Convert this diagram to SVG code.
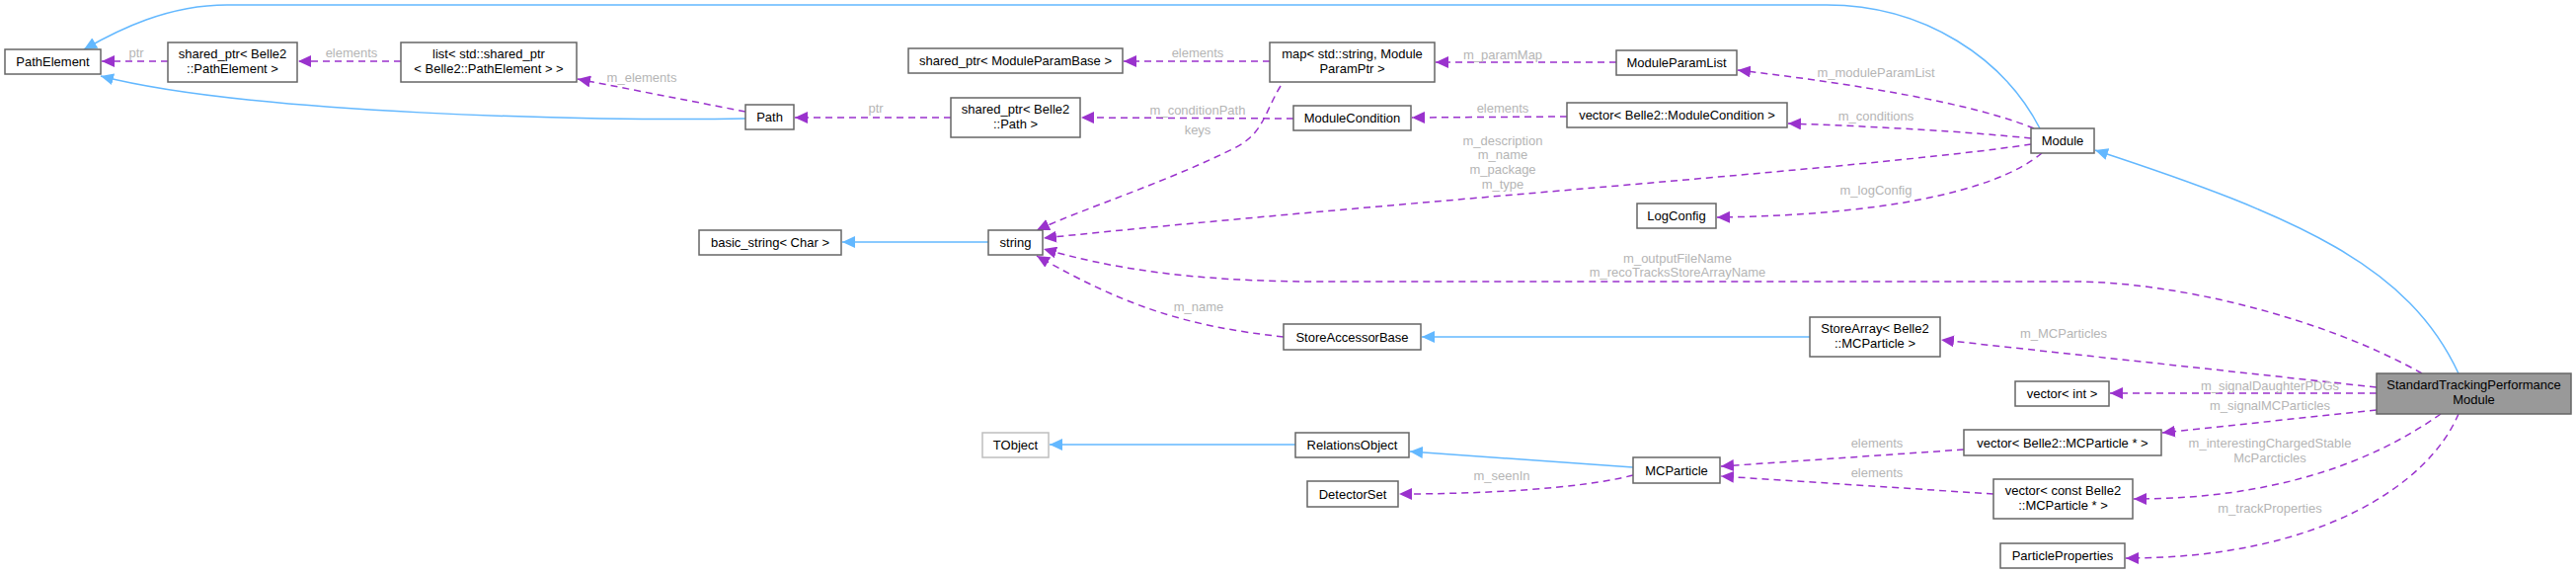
<svg xmlns="http://www.w3.org/2000/svg" width="2609" height="581" viewBox="0 0 2609 581">
<defs>
<style>
.n rect{fill:#fff;stroke:#666;stroke-width:1.5}
.n text{font-family:"Liberation Sans",Arial,sans-serif;font-size:13px;fill:#000;text-anchor:middle}
.u{fill:none;stroke:#9a32cd;stroke-width:1.5;stroke-dasharray:7,5}
.i{fill:none;stroke:#63b8ff;stroke-width:1.5}
.l{font-family:"Liberation Sans",Arial,sans-serif;font-size:13px;fill:#b5b5b5;text-anchor:middle}
</style>
<marker id="pu" markerUnits="userSpaceOnUse" markerWidth="14" markerHeight="12" refX="13" refY="6" orient="auto"><path d="M0,0 L13,6 L0,12 Z" fill="#9a32cd"/></marker>
<marker id="pi" markerUnits="userSpaceOnUse" markerWidth="14" markerHeight="12" refX="13" refY="6" orient="auto"><path d="M0,0 L13,6 L0,12 Z" fill="#63b8ff"/></marker>
</defs>
<rect width="2609" height="581" fill="#fff"/>
<g id="edges">
<path class="i" marker-end="url(#pi)" d="M2066,130 C2030,60 1950,5 1850,5 L230,5 C170,5 120,30 85,50"/>
<path class="i" marker-end="url(#pi)" d="M755,120 C600,123 250,115 102,77"/>
<path class="u" marker-end="url(#pu)" d="M170,62 L103,62"/>
<path class="u" marker-end="url(#pu)" d="M406,62 L302,62"/>
<path class="u" marker-end="url(#pu)" d="M755,113 L585,80"/>
<path class="u" marker-end="url(#pu)" d="M963,119 L805,119"/>
<path class="u" marker-end="url(#pu)" d="M1286,62 L1138,62"/>
<path class="u" marker-end="url(#pu)" d="M1637,63 L1454,63"/>
<path class="u" marker-end="url(#pu)" d="M2060,130 C2000,105 1880,85 1760,71"/>
<path class="u" marker-end="url(#pu)" d="M1310,120 L1095,119"/>
<path class="u" marker-end="url(#pu)" d="M1587,118 L1430,119"/>
<path class="u" marker-end="url(#pu)" d="M2057,140 C1990,133 1900,128 1811,125"/>
<path class="u" marker-end="url(#pu)" d="M1297,87 C1280,115 1280,135 1250,150 C1180,185 1100,210 1050,233"/>
<path class="u" marker-end="url(#pu)" d="M2057,146 C1900,170 1400,205 1057,241"/>
<path class="u" marker-end="url(#pu)" d="M2068,155 C2020,195 1900,218 1739,220"/>
<path class="u" marker-end="url(#pu)" d="M2453,378 C2350,320 2200,285 2100,285 L1336,285 C1200,285 1120,270 1057,252"/>
<path class="u" marker-end="url(#pu)" d="M2407,392 L1966,344"/>
<path class="u" marker-end="url(#pu)" d="M1300,341 C1200,330 1140,310 1050,259"/>
<path class="i" marker-end="url(#pi)" d="M1833,341 L1440,341"/>
<path class="i" marker-end="url(#pi)" d="M1001,245 L853,245"/>
<path class="u" marker-end="url(#pu)" d="M2407,398 L2137,398"/>
<path class="u" marker-end="url(#pu)" d="M2407,415 L2190,438"/>
<path class="u" marker-end="url(#pu)" d="M2472,419 C2400,470 2300,505 2161,505"/>
<path class="u" marker-end="url(#pu)" d="M2490,419 C2460,490 2350,565 2153,565"/>
<path class="i" marker-end="url(#pi)" d="M2490,378 C2440,270 2330,220 2122,152"/>
<path class="u" marker-end="url(#pu)" d="M1989,455 L1743,472"/>
<path class="u" marker-end="url(#pu)" d="M2019,500 L1743,482"/>
<path class="i" marker-end="url(#pi)" d="M1654,473 L1428,457"/>
<path class="i" marker-end="url(#pi)" d="M1312,450 L1063,450"/>
<path class="u" marker-end="url(#pu)" d="M1654,481 C1600,495 1500,500 1417,500"/>
<text class="l" x="138" y="58">ptr</text>
<text class="l" x="356" y="58">elements</text>
<text class="l" x="650" y="83">m_elements</text>
<text class="l" x="887" y="114">ptr</text>
<text class="l" x="1213" y="58">elements</text>
<text class="l" x="1522" y="60">m_paramMap</text>
<text class="l" x="1213" y="116">m_conditionPath</text>
<text class="l" x="1213" y="136">keys</text>
<text class="l" x="1522" y="114">elements</text>
<text class="l" x="1900" y="78">m_moduleParamList</text>
<text class="l" x="1900" y="122">m_conditions</text>
<text class="l" x="1900" y="197">m_logConfig</text>
<text class="l" x="1522" y="147">m_description</text>
<text class="l" x="1522" y="161">m_name</text>
<text class="l" x="1522" y="176">m_package</text>
<text class="l" x="1522" y="191">m_type</text>
<text class="l" x="1699" y="266">m_outputFileName</text>
<text class="l" x="1699" y="280">m_recoTracksStoreArrayName</text>
<text class="l" x="1214" y="315">m_name</text>
<text class="l" x="2090" y="342">m_MCParticles</text>
<text class="l" x="2299" y="395">m_signalDaughterPDGs</text>
<text class="l" x="2299" y="415">m_signalMCParticles</text>
<text class="l" x="2299" y="453">m_interestingChargedStable</text>
<text class="l" x="2299" y="468">McParcticles</text>
<text class="l" x="2299" y="519">m_trackProperties</text>
<text class="l" x="1901" y="453">elements</text>
<text class="l" x="1901" y="483">elements</text>
<text class="l" x="1521" y="486">m_seenIn</text>
</g>
<g id="PathElement" class="n"><rect x="5" y="50" width="97" height="25"/><text x="53.5" y="67">PathElement</text></g>
<g id="sp_PathElement" class="n"><rect x="170" y="43" width="131" height="40"/><text x="235.5" y="59">shared_ptr&lt; Belle2</text><text x="235.5" y="74">::PathElement &gt;</text></g>
<g id="list" class="n"><rect x="406" y="43" width="178" height="40"/><text x="495" y="59">list&lt; std::shared_ptr</text><text x="495" y="74">&lt; Belle2::PathElement &gt; &gt;</text></g>
<g id="Path" class="n"><rect x="755" y="106" width="49" height="25"/><text x="779.5" y="123">Path</text></g>
<g id="basic_string" class="n"><rect x="708" y="233" width="144" height="25"/><text x="780" y="250">basic_string&lt; Char &gt;</text></g>
<g id="sp_ModuleParamBase" class="n"><rect x="920" y="49" width="217" height="25"/><text x="1028.5" y="66">shared_ptr&lt; ModuleParamBase &gt;</text></g>
<g id="map" class="n"><rect x="1286" y="43" width="167" height="40"/><text x="1369.5" y="59">map&lt; std::string, Module</text><text x="1369.5" y="74">ParamPtr &gt;</text></g>
<g id="ModuleParamList" class="n"><rect x="1637" y="51" width="122" height="25"/><text x="1698" y="68">ModuleParamList</text></g>
<g id="sp_Path" class="n"><rect x="963" y="99" width="131" height="40"/><text x="1028.5" y="115">shared_ptr&lt; Belle2</text><text x="1028.5" y="130">::Path &gt;</text></g>
<g id="ModuleCondition" class="n"><rect x="1310" y="107" width="119" height="25"/><text x="1369.5" y="124">ModuleCondition</text></g>
<g id="vec_ModuleCondition" class="n"><rect x="1587" y="104" width="223" height="25"/><text x="1698.5" y="121">vector&lt; Belle2::ModuleCondition &gt;</text></g>
<g id="string" class="n"><rect x="1001" y="233" width="55" height="25"/><text x="1028.5" y="250">string</text></g>
<g id="LogConfig" class="n"><rect x="1658" y="206" width="80" height="25"/><text x="1698" y="223">LogConfig</text></g>
<g id="Module" class="n"><rect x="2057" y="130" width="64" height="25"/><text x="2089" y="147">Module</text></g>
<g id="StoreAccessorBase" class="n"><rect x="1300" y="328" width="139" height="26"/><text x="1369.5" y="346">StoreAccessorBase</text></g>
<g id="StoreArray" class="n"><rect x="1833" y="321" width="132" height="40"/><text x="1899" y="337">StoreArray&lt; Belle2</text><text x="1899" y="352">::MCParticle &gt;</text></g>
<g id="TObject" class="n"><rect x="995" y="438" width="67" height="25" style="stroke:#bfbfbf"/><text x="1028.5" y="455">TObject</text></g>
<g id="RelationsObject" class="n"><rect x="1312" y="438" width="115" height="25"/><text x="1369.5" y="455">RelationsObject</text></g>
<g id="MCParticle" class="n"><rect x="1654" y="463" width="88" height="26"/><text x="1698" y="481">MCParticle</text></g>
<g id="DetectorSet" class="n"><rect x="1324" y="487" width="92" height="26"/><text x="1370" y="505">DetectorSet</text></g>
<g id="vec_int" class="n"><rect x="2041" y="386" width="95" height="25"/><text x="2088.5" y="403">vector&lt; int &gt;</text></g>
<g id="vec_MCParticle" class="n"><rect x="1989" y="435" width="200" height="26"/><text x="2089" y="453">vector&lt; Belle2::MCParticle * &gt;</text></g>
<g id="vec_const_MCParticle" class="n"><rect x="2019" y="485" width="141" height="40"/><text x="2089.5" y="501">vector&lt; const Belle2</text><text x="2089.5" y="516">::MCParticle * &gt;</text></g>
<g id="ParticleProperties" class="n"><rect x="2026" y="550" width="126" height="25"/><text x="2089" y="567">ParticleProperties</text></g>
<g id="StandardTrackingPerformanceModule" class="n"><rect x="2407" y="378" width="197" height="41" style="fill:#999"/><text x="2505.5" y="394">StandardTrackingPerformance</text><text x="2505.5" y="409">Module</text></g>
</svg>
